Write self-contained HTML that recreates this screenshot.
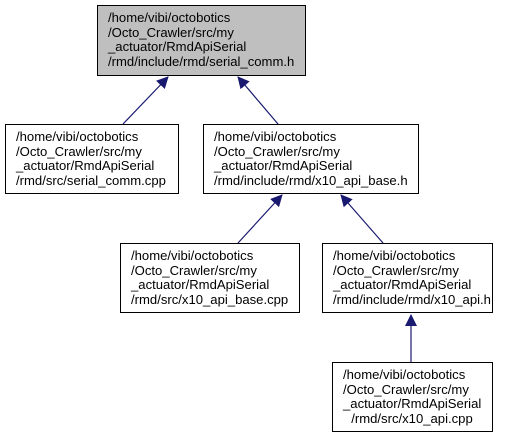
<!DOCTYPE html>
<html><head><style>
html,body{margin:0;padding:0;background:#fff;}
svg{display:block;}
text{font-family:"Liberation Sans",Arial,sans-serif;font-size:13.1px;fill:#000;}
</style></head><body>
<svg width="507" height="437" viewBox="0 0 507 437" xmlns="http://www.w3.org/2000/svg">
<defs>
<marker id="a" markerWidth="12" markerHeight="12" refX="11" refY="6" orient="auto" markerUnits="userSpaceOnUse">
<path d="M0,0 L12,6 L0,12 z" fill="#191970"/>
</marker>
</defs>
<g stroke="#191970" stroke-width="1.2" fill="none">
<line x1="123" y1="124" x2="168" y2="77" marker-end="url(#a)"/>
<line x1="278" y1="124" x2="238" y2="77" marker-end="url(#a)"/>
<line x1="238" y1="243" x2="282" y2="195" marker-end="url(#a)"/>
<line x1="383" y1="243" x2="341" y2="195" marker-end="url(#a)"/>
<line x1="411" y1="362" x2="411" y2="315" marker-end="url(#a)"/>
</g>
<g stroke="#000" stroke-width="1">
<rect x="97.5" y="5.5" width="208" height="70" fill="#bfbfbf"/>
<rect x="5.5" y="124.5" width="173" height="69" fill="#fff"/>
<rect x="203.5" y="124.5" width="215" height="69" fill="#fff"/>
<rect x="120.5" y="243.5" width="179" height="69" fill="#fff"/>
<rect x="322.5" y="243.5" width="170" height="69" fill="#fff"/>
<rect x="332.5" y="362.5" width="160" height="69" fill="#fff"/>
</g>
<text x="108" y="22">/home/vibi/octobotics</text>
<text x="108" y="37">/Octo_Crawler/src/my</text>
<text x="108" y="51">_actuator/RmdApiSerial</text>
<text x="108" y="66">/rmd/include/rmd/serial_comm.h</text>

<text x="16" y="141">/home/vibi/octobotics</text>
<text x="16" y="156">/Octo_Crawler/src/my</text>
<text x="16" y="170">_actuator/RmdApiSerial</text>
<text x="16" y="185">/rmd/src/serial_comm.cpp</text>

<text x="214" y="141">/home/vibi/octobotics</text>
<text x="214" y="156">/Octo_Crawler/src/my</text>
<text x="214" y="170">_actuator/RmdApiSerial</text>
<text x="214" y="185">/rmd/include/rmd/x10_api_base.h</text>

<text x="131" y="260">/home/vibi/octobotics</text>
<text x="131" y="275">/Octo_Crawler/src/my</text>
<text x="131" y="289">_actuator/RmdApiSerial</text>
<text x="131" y="304">/rmd/src/x10_api_base.cpp</text>

<text x="333" y="260">/home/vibi/octobotics</text>
<text x="333" y="275">/Octo_Crawler/src/my</text>
<text x="333" y="289">_actuator/RmdApiSerial</text>
<text x="333" y="304">/rmd/include/rmd/x10_api.h</text>

<text x="343" y="379">/home/vibi/octobotics</text>
<text x="343" y="394">/Octo_Crawler/src/my</text>
<text x="343" y="408">_actuator/RmdApiSerial</text>
<text x="412" y="423" text-anchor="middle">/rmd/src/x10_api.cpp</text>
</svg>
</body></html>
